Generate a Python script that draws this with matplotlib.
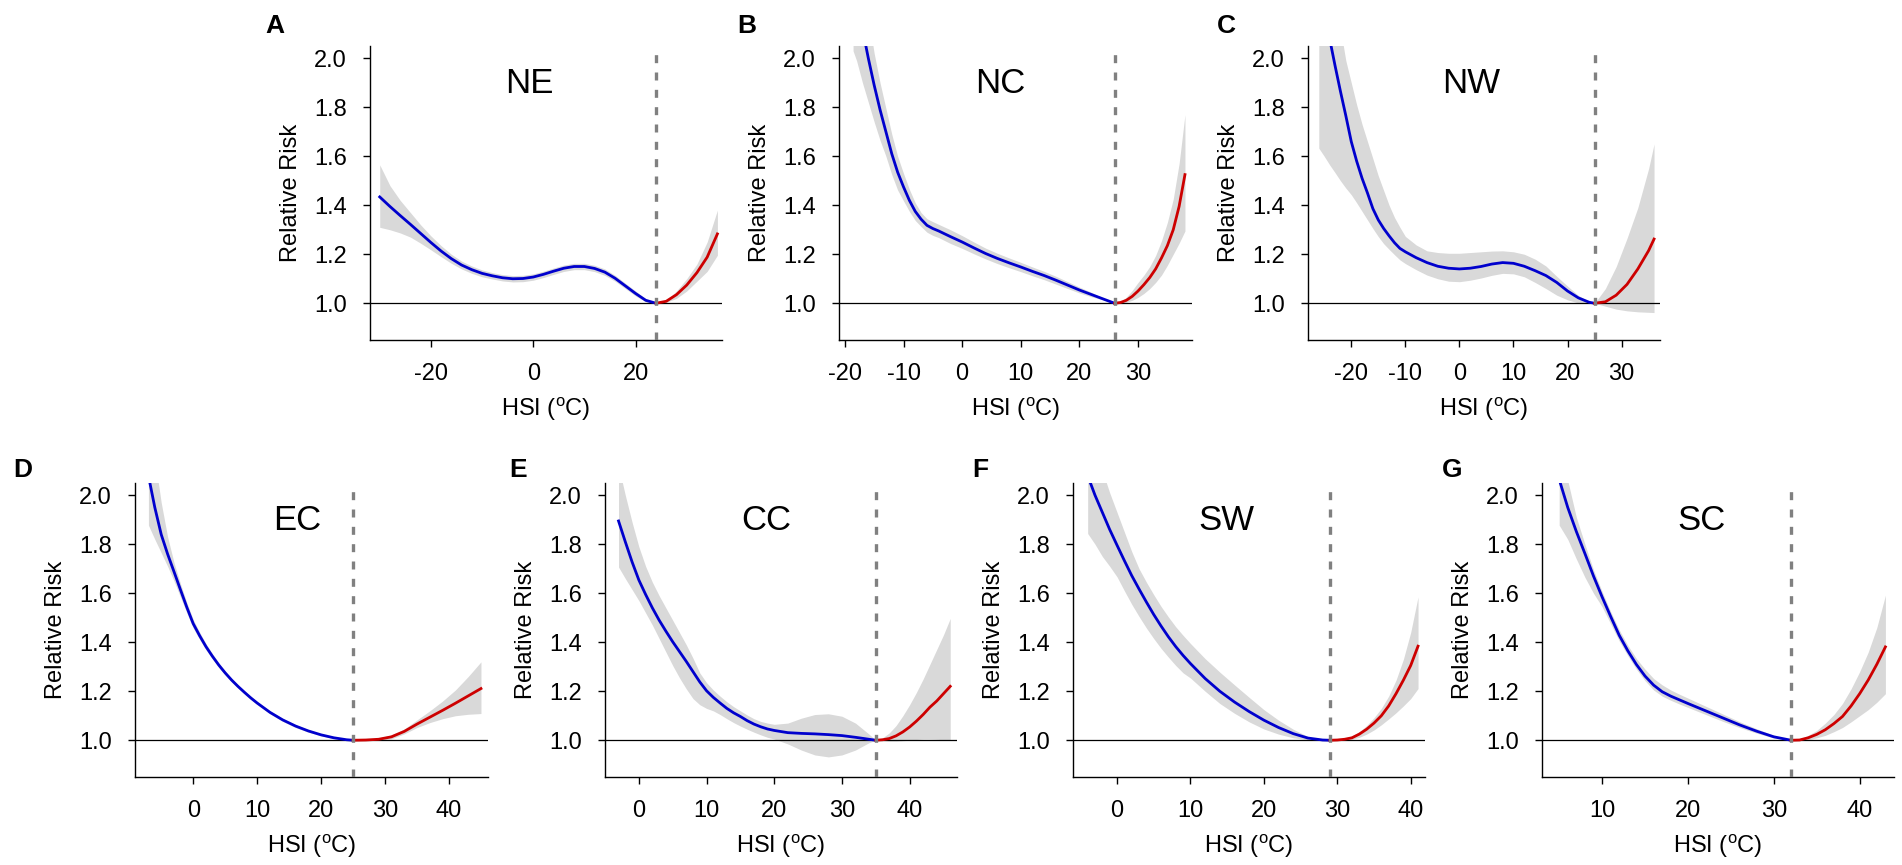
import numpy as np
import matplotlib
matplotlib.use('Agg')
import matplotlib.pyplot as plt

plt.rcParams['font.family'] = ['Liberation Sans', 'DejaVu Sans']
plt.rcParams['mathtext.fontset'] = 'custom'
plt.rcParams['mathtext.rm'] = 'Liberation Sans'
plt.rcParams['mathtext.it'] = 'Liberation Sans:italic'
plt.rcParams['axes.unicode_minus'] = False

# HSI - relative risk curves per region
# NE
ne_x = [-30, -28, -26, -24, -22, -20, -18, -16, -14, -12, -10, -8, -6, -4, -2, 0, 2, 4, 6, 8,
        10, 12, 14, 16, 18, 20, 22, 24, 26, 28, 30, 32, 34, 36]
ne_rr = [1.434, 1.395, 1.358, 1.322, 1.285, 1.248, 1.213, 1.182, 1.156, 1.137, 1.122, 1.112, 1.104,
         1.100, 1.101, 1.107, 1.118, 1.131, 1.143, 1.150, 1.150, 1.142, 1.127, 1.102, 1.071, 1.040,
         1.012, 1.000, 1.008, 1.035, 1.074, 1.125, 1.188, 1.283]
ne_hi = [1.565, 1.48, 1.42, 1.37, 1.32, 1.275, 1.235, 1.20, 1.172, 1.152, 1.136, 1.125, 1.117, 1.113,
         1.114, 1.12, 1.131, 1.144, 1.156, 1.163, 1.163, 1.155, 1.14, 1.114, 1.082, 1.05, 1.018, 1.0,
         1.012, 1.05, 1.10, 1.16, 1.25, 1.38]
ne_lo = [1.31, 1.30, 1.287, 1.27, 1.245, 1.218, 1.19, 1.163, 1.14, 1.122, 1.108, 1.099, 1.091, 1.087,
         1.088, 1.094, 1.105, 1.118, 1.13, 1.137, 1.137, 1.129, 1.114, 1.09, 1.06, 1.03, 1.006, 1.0,
         1.004, 1.02, 1.05, 1.09, 1.13, 1.196]
ne_mmt = 24

# NC
nc_x = [-18.6, -18, -17, -16, -15, -14, -13, -12, -11, -10, -9, -8, -7, -6, -5, -4,
        -2, 0, 2, 4, 6, 8, 10, 12, 14, 16, 18, 20, 22, 24, 26,
        27, 28, 29, 30, 31, 32, 33, 34, 35, 36, 37, 38]
nc_rr = [2.31, 2.25, 2.12, 2.00, 1.89, 1.79, 1.70, 1.61, 1.535, 1.475, 1.42, 1.375, 1.343, 1.318,
         1.305, 1.295, 1.272, 1.25, 1.226, 1.203, 1.183, 1.165, 1.148, 1.13, 1.113, 1.094, 1.074,
         1.054, 1.036, 1.018, 1.0,
         1.003, 1.012, 1.028, 1.05, 1.076, 1.105, 1.14, 1.185, 1.235, 1.30, 1.395, 1.525]
nc_hi = [2.6, 2.5, 2.33, 2.17, 2.02, 1.90, 1.795, 1.69, 1.60, 1.53, 1.465, 1.41, 1.37, 1.345, 1.333,
         1.322, 1.30, 1.276, 1.25, 1.225, 1.204, 1.185, 1.167, 1.148, 1.13, 1.11, 1.088, 1.066, 1.045,
         1.022, 1.0,
         1.006, 1.025, 1.052, 1.085, 1.115, 1.15, 1.195, 1.255, 1.33, 1.425, 1.57, 1.77]
nc_lo = [2.03, 1.99, 1.90, 1.82, 1.74, 1.665, 1.60, 1.525, 1.462, 1.418, 1.375, 1.338, 1.313, 1.29,
         1.277, 1.268, 1.244, 1.224, 1.202, 1.181, 1.162, 1.145, 1.129, 1.112, 1.096, 1.078, 1.06,
         1.042, 1.027, 1.014, 1.0,
         1.001, 1.004, 1.012, 1.024, 1.04, 1.06, 1.085, 1.115, 1.155, 1.20, 1.245, 1.295]
nc_mmt = 26

# NW
nw_x = [-26, -25, -24, -23, -22, -21, -20, -19, -18, -17, -16, -15, -14, -13, -12, -11, -10,
        -8, -6, -4, -2, 0, 2, 4, 6, 8, 10, 12, 14, 16, 18, 20, 22, 24, 25, 27, 29, 31, 33, 35, 36]
nw_rr = [2.40, 2.25, 2.08, 1.97, 1.865, 1.765, 1.66, 1.58, 1.51, 1.45, 1.386, 1.34, 1.305, 1.275,
         1.247, 1.224, 1.21, 1.186, 1.166, 1.151, 1.143, 1.140, 1.143, 1.15, 1.16, 1.166, 1.163,
         1.151, 1.133, 1.113, 1.085, 1.05, 1.022, 1.004, 1.0, 1.006, 1.033, 1.077, 1.14, 1.215, 1.262]
nw_hi = [2.9, 2.65, 2.42, 2.25, 2.12, 1.99, 1.90, 1.81, 1.73, 1.66, 1.59, 1.52, 1.46, 1.40, 1.35,
         1.31, 1.273, 1.238, 1.214, 1.207, 1.204, 1.204, 1.207, 1.21, 1.213, 1.214, 1.21, 1.20, 1.18,
         1.152, 1.11, 1.07, 1.032, 1.007, 1.0, 1.06, 1.15, 1.265, 1.39, 1.55, 1.65]
nw_lo = [1.633, 1.60, 1.565, 1.533, 1.50, 1.47, 1.443, 1.41, 1.375, 1.34, 1.305, 1.272, 1.243, 1.22,
         1.198, 1.177, 1.162, 1.137, 1.115, 1.10, 1.09, 1.088, 1.094, 1.103, 1.114, 1.122, 1.12,
         1.108, 1.085, 1.06, 1.033, 1.014, 1.001, 0.999, 1.0, 0.988, 0.976, 0.969, 0.965, 0.963, 0.962]
nw_mmt = 25

# EC
ec_x = [-7, -6, -5, -4, -3, -2, -1, 0, 1, 2, 3, 4, 5, 6, 7, 8, 9, 10, 12, 14, 16, 18, 20, 22, 24,
        25, 27, 29, 31, 33, 35, 37, 39, 41, 43, 45]
ec_rr = [2.08, 1.95, 1.84, 1.76, 1.688, 1.615, 1.543, 1.476, 1.427, 1.382, 1.343, 1.307, 1.275,
         1.246, 1.22, 1.196, 1.173, 1.152, 1.114, 1.083, 1.058, 1.038, 1.022, 1.010, 1.002, 1.0,
         1.001, 1.004, 1.014, 1.036, 1.066, 1.094, 1.122, 1.151, 1.181, 1.211]
ec_hi = [2.35, 2.15, 1.97, 1.83, 1.725, 1.64, 1.562, 1.493, 1.441, 1.394, 1.353, 1.316, 1.283, 1.253,
         1.226, 1.202, 1.179, 1.158, 1.12, 1.089, 1.064, 1.043, 1.026, 1.013, 1.003, 1.0, 1.003,
         1.009, 1.022, 1.046, 1.083, 1.12, 1.16, 1.205, 1.26, 1.32]
ec_lo = [1.878, 1.82, 1.765, 1.71, 1.65, 1.585, 1.52, 1.458, 1.412, 1.369, 1.332, 1.297, 1.266, 1.238,
         1.213, 1.189, 1.166, 1.146, 1.108, 1.077, 1.052, 1.033, 1.018, 1.007, 1.001, 1.0, 0.999,
         1.0, 1.006, 1.026, 1.052, 1.072, 1.088, 1.1, 1.106, 1.109]
ec_mmt = 25

# CC
cc_x = [-3, -2, -1, 0, 1, 2, 3, 4, 5, 6, 7, 8, 9, 10, 11, 12, 13, 14, 15, 16, 17, 18, 19, 20,
        22, 24, 26, 28, 30, 32, 34, 35, 36, 37, 38, 39, 40, 41, 42, 43, 44, 45, 46]
cc_rr = [1.895, 1.81, 1.728, 1.654, 1.595, 1.54, 1.49, 1.445, 1.402, 1.362, 1.322, 1.28, 1.238,
         1.202, 1.175, 1.152, 1.13, 1.112, 1.097, 1.08, 1.066, 1.055, 1.046, 1.04, 1.031, 1.028,
         1.026, 1.023, 1.019, 1.012, 1.004, 1.0, 1.002, 1.007, 1.018, 1.034, 1.054, 1.078, 1.105,
         1.135, 1.16, 1.19, 1.22]
cc_hi = [2.12, 2.0, 1.89, 1.79, 1.71, 1.645, 1.59, 1.54, 1.49, 1.44, 1.39, 1.335, 1.275, 1.235,
         1.205, 1.18, 1.157, 1.137, 1.12, 1.103, 1.088, 1.077, 1.07, 1.065, 1.07, 1.09, 1.105, 1.108,
         1.098, 1.07, 1.025, 1.0, 1.01, 1.03, 1.06, 1.1, 1.145, 1.195, 1.25, 1.31, 1.37, 1.43, 1.497]
cc_lo = [1.707, 1.66, 1.615, 1.57, 1.52, 1.47, 1.415, 1.36, 1.305, 1.255, 1.21, 1.17, 1.145, 1.13,
         1.12, 1.105, 1.088, 1.072, 1.058, 1.045, 1.033, 1.022, 1.012, 1.005, 0.985, 0.96, 0.94,
         0.932, 0.94, 0.96, 0.99, 1.0, 0.998, 0.996, 0.996, 0.998, 1.0, 1.003, 1.005, 1.005, 1.004,
         1.002, 1.0]
cc_mmt = 35

# SW
sw_x = [-4, -3, -2, -1, 0, 1, 2, 3, 4, 5, 6, 7, 8, 9, 10, 12, 14, 16, 18, 20, 22, 24, 26, 28,
        29, 30, 31, 32, 33, 34, 35, 36, 37, 38, 39, 40, 41]
sw_rr = [2.08, 2.0, 1.93, 1.86, 1.796, 1.733, 1.672, 1.617, 1.564, 1.513, 1.466, 1.422, 1.382,
         1.346, 1.313, 1.252, 1.2, 1.156, 1.117, 1.082, 1.052, 1.027, 1.009, 1.001, 1.0, 1.001,
         1.004, 1.01, 1.025, 1.045, 1.07, 1.1, 1.14, 1.19, 1.245, 1.305, 1.384]
sw_hi = [2.3, 2.2, 2.1, 2.01, 1.93, 1.85, 1.77, 1.70, 1.645, 1.594, 1.546, 1.503, 1.463, 1.428,
         1.395, 1.333, 1.278, 1.226, 1.175, 1.125, 1.082, 1.045, 1.015, 1.002, 1.0, 1.003, 1.008,
         1.018, 1.035, 1.06, 1.092, 1.13, 1.18, 1.245, 1.33, 1.44, 1.585]
sw_lo = [1.844, 1.80, 1.75, 1.71, 1.667, 1.61, 1.555, 1.505, 1.458, 1.415, 1.375, 1.339, 1.305,
         1.275, 1.254, 1.2, 1.15, 1.11, 1.075, 1.046, 1.025, 1.01, 1.002, 1.0, 1.0, 1.0, 1.001,
         1.004, 1.012, 1.025, 1.042, 1.063, 1.087, 1.112, 1.14, 1.17, 1.211]
sw_mmt = 29

# SC
sc_x = [5, 6, 7, 8, 9, 10, 11, 12, 13, 14, 15, 16, 17, 18, 19, 20, 22, 24, 26, 28, 30, 32,
        33, 34, 35, 36, 37, 38, 39, 40, 41, 42, 43]
sc_rr = [2.065, 1.95, 1.852, 1.762, 1.67, 1.585, 1.505, 1.428, 1.365, 1.309, 1.262, 1.225, 1.198,
         1.18, 1.165, 1.15, 1.121, 1.092, 1.063, 1.037, 1.014, 1.0, 1.001, 1.01, 1.024, 1.043,
         1.068, 1.097, 1.14, 1.19, 1.246, 1.31, 1.381]
sc_hi = [2.25, 2.06, 1.91, 1.80, 1.695, 1.607, 1.525, 1.45, 1.387, 1.333, 1.29, 1.252, 1.226, 1.205,
         1.188, 1.172, 1.14, 1.108, 1.076, 1.047, 1.02, 1.0, 1.005, 1.02, 1.04, 1.07, 1.105, 1.15,
         1.21, 1.28, 1.36, 1.46, 1.592]
sc_lo = [1.878, 1.82, 1.74, 1.665, 1.60, 1.545, 1.475, 1.405, 1.345, 1.29, 1.243, 1.205, 1.18,
         1.163, 1.148, 1.134, 1.106, 1.078, 1.052, 1.029, 1.009, 1.0, 0.999, 1.002, 1.01, 1.02,
         1.035, 1.052, 1.075, 1.1, 1.125, 1.155, 1.19]
sc_mmt = 32

letters = ['A', 'B', 'C', 'D', 'E', 'F', 'G']
regions = ['NE', 'NC', 'NW', 'EC', 'CC', 'SW', 'SC']
xticks = [[-20, 0, 20], [-20, -10, 0, 10, 20, 30], [-20, -10, 0, 10, 20, 30],
          [0, 10, 20, 30, 40], [0, 10, 20, 30, 40], [0, 10, 20, 30, 40], [10, 20, 30, 40]]
yticks = [1.0, 1.2, 1.4, 1.6, 1.8, 2.0]

series = [(ne_x, ne_rr, ne_lo, ne_hi, ne_mmt), (nc_x, nc_rr, nc_lo, nc_hi, nc_mmt),
          (nw_x, nw_rr, nw_lo, nw_hi, nw_mmt), (ec_x, ec_rr, ec_lo, ec_hi, ec_mmt),
          (cc_x, cc_rr, cc_lo, cc_hi, cc_mmt), (sw_x, sw_rr, sw_lo, sw_hi, sw_mmt),
          (sc_x, sc_rr, sc_lo, sc_hi, sc_mmt)]

# layout in pixels: left, right, top, bottom of axes; x limits; letter position; title x (axes frac)
W, H = 1902, 865
layout = [
    (370, 722, 46, 340, (-31.9, 36.9), (275, 33), 0.454),
    (839, 1192, 46, 340, (-21.0, 39.2), (747, 33), 0.456),
    (1308, 1660, 46, 340, (-28.0, 37.1), (1226, 33), 0.464),
    (135, 488, 483, 777, (-9.1, 46.1), (23, 477), 0.459),
    (605, 957, 483, 777, (-5.0, 47.0), (518, 477), 0.458),
    (1073, 1425, 483, 777, (-6.0, 41.95), (980, 477), 0.437),
    (1542, 1894, 483, 777, (3.0, 44.0), (1452, 477), 0.454),
]

fig = plt.figure(figsize=(W / 100, H / 100), dpi=100)

for i in range(7):
    l, r, t, b, xlim, lpos, tx = layout[i]
    x, rr, lo, hi, mmt = series[i]
    x = np.array(x)
    rr = np.array(rr)
    ax = fig.add_axes([l / W, 1 - b / H, (r - l) / W, (b - t) / H])

    ax.fill_between(x, lo, hi, color='#d9d9d9', lw=0, zorder=1)
    ax.axhline(1.0, color='black', lw=0.9, zorder=2)
    cold = x <= mmt
    hot = x >= mmt
    ax.plot(x[cold], rr[cold], color='#0000cd', lw=2.0, zorder=3)
    ax.plot(x[hot], rr[hot], color='#cd0000', lw=2.0, zorder=3)
    ax.axvline(mmt, color='#808080', lw=2.4, dashes=(2.4, 2.8), zorder=4)

    ax.set_xlim(*xlim)
    ax.set_ylim(0.85, 2.05)
    ax.set_xticks(xticks[i])
    ax.set_yticks(yticks)
    ax.set_yticklabels([f'{v:.1f}' for v in yticks])
    ax.spines['top'].set_visible(False)
    ax.spines['right'].set_visible(False)
    for s in ['left', 'bottom']:
        ax.spines[s].set_linewidth(1.0)
    ax.tick_params(direction='out', length=5, width=1.0, labelsize=17)
    ax.tick_params(axis='x', pad=11.5)
    ax.tick_params(axis='y', pad=11.5)

    w = r - l
    h = b - t
    ax.set_xlabel(r'HSI ($^{\mathrm{o}}$C)', fontsize=17, va='baseline')
    ax.xaxis.set_label_coords(0.5, -76 / h)
    ax.set_ylabel('Relative Risk', fontsize=17, va='baseline', rotation_mode='anchor')
    ax.yaxis.set_label_coords(-73 / w, 0.5)

    ax.text(tx, (1.857 - 0.85) / 1.2, regions[i], transform=ax.transAxes,
            ha='center', va='baseline', fontsize=25)
    fig.text(lpos[0] / W, 1 - lpos[1] / H, letters[i], ha='center', va='baseline',
             fontsize=19, fontweight='bold')

fig.savefig('out.png', dpi=100)
